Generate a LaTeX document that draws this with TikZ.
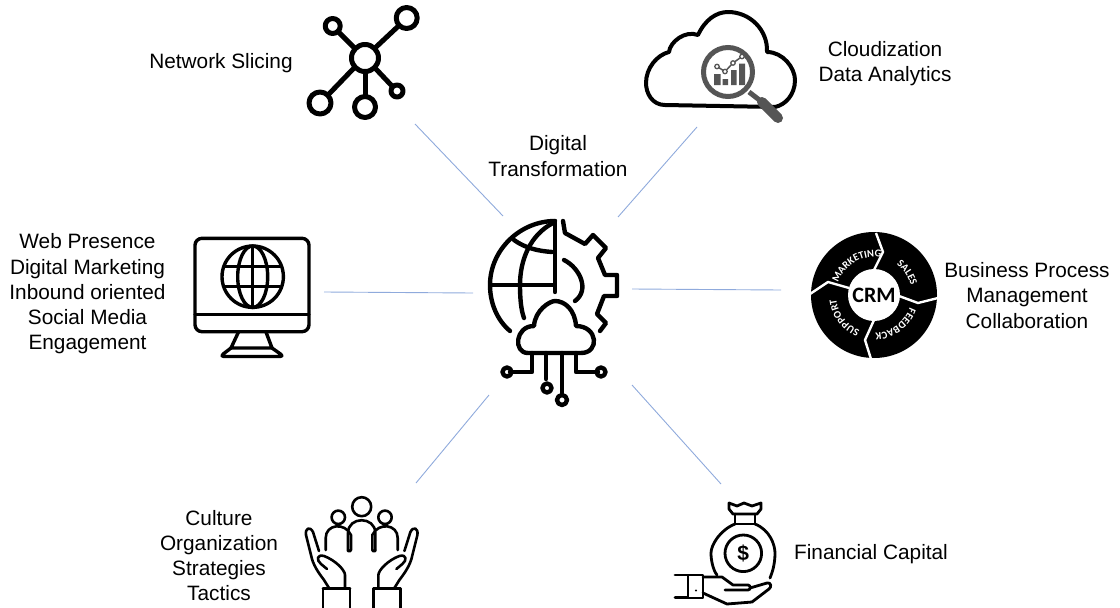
\documentclass[tikz,border=0pt]{standalone}
\usepackage{fontspec}
\setmainfont{Liberation Sans}
\newfontfamily\crmfont{Carlito}[BoldFont=Carlito Bold]
\usetikzlibrary{decorations.text,calc}
\tikzset{
  spoke/.style={draw=spokeblue,line width=0.9pt},
  lbl/.style={align=center,inner sep=0pt,font=\fontsize{20.8}{25.2}\selectfont,text=black},
  ic/.style={draw=black,line width=#1,line join=round,line cap=round,fill=none},
  ic/.default=4pt,
  crmtext/.style={decorate,decoration={text along path,text align=center,text={|\crmfont\bfseries\fontsize{10.5}{10.5}\selectfont\color{white}|#1}}}
}
\definecolor{spokeblue}{HTML}{8FAADC}
\definecolor{lens}{HTML}{555555}
\begin{document}
\begin{tikzpicture}[x=1pt,y=-1pt]
\useasboundingbox (0,0) rectangle (1120,608);
% labels
\node[lbl] (lslice) at (221,63.5) {Network Slicing};
\node[lbl] (lcloud) at (885,64) {Cloudization\\Data Analytics};
\node[lbl] (lhub) at (558,156) {Digital\\Transformation};
\node[lbl] (lweb) at (87.5,294) {Web Presence\\Digital Marketing\\Inbound oriented\\Social Media\\Engagement};
\node[lbl] (lbpm) at (1027,295.5) {Business Process\\Management\\Collaboration};
\node[lbl] (lcult) at (219,555.5) {Culture\\Organization\\Strategies\\Tactics};
\node[lbl] (lcap) at (871,554.5) {Financial Capital};
% spokes
\coordinate (a1) at (415,124); \coordinate (a2) at (503,216);
\coordinate (b1) at (697,127); \coordinate (b2) at (618,217);
\coordinate (c1) at (324,292); \coordinate (c2) at (473,293);
\coordinate (d1) at (781,290); \coordinate (d2) at (632,289);
\coordinate (e1) at (416,483); \coordinate (e2) at (489,395);
\coordinate (f1) at (721,484); \coordinate (f2) at (632,385);
\foreach \u/\v in {a1/a2,b1/b2,c1/c2,d1/d2,e1/e2,f1/f2} \draw[spoke] (\u) -- (\v);
% hub icon
\begin{scope}[every path/.style={ic=4.4pt}]
\draw (555,221) .. controls (520,221) and (490,250) .. (490,285) .. controls (490,303) and (497,320) .. (510,331);
\draw (555,221) -- (555,292);
\draw (491,285) -- (553,285);
\draw (514,240) .. controls (525,248) and (538,251) .. (552,252);
\draw (553,223) .. controls (530,235) and (520,260) .. (520,285) .. controls (520,298) and (521,310) .. (524,318);
\draw (563,221) -- (565,233) -- (585,244) -- (593,235) -- (606,248) -- (598,258) -- (605,275) -- (617,275) -- (617,296) -- (604,296) -- (597,314) -- (606,323) -- (600,331);
\draw (564,260) .. controls (580,268) and (590,290) .. (575,301);
\draw (528,353) .. controls (513,353) and (515,326) .. (534,326) .. controls (535,310) and (550,301) .. (555,301) .. controls (565,301) and (575,310) .. (576,326) .. controls (598,326) and (600,353) .. (581,353) -- cycle;
\draw (532,353) -- (532,372) -- (510,372);
\draw (546,353) -- (546,379);
\draw (562,353) -- (562,393);
\draw (576,353) -- (576,372) -- (598,372);
\draw (507,372) circle[radius=4.5];
\draw (547,388) circle[radius=4.5];
\draw (562,400) circle[radius=5];
\draw (601,372) circle[radius=4.5];
\end{scope}
% network slicing
\begin{scope}[every path/.style={ic=5pt}]
\draw (365,58) circle[radius=13.5];
\draw (332.7,26) circle[radius=7.5];
\draw (406.7,18) circle[radius=10.5];
\draw (320,103) circle[radius=11];
\draw (365,107) circle[radius=10.5];
\draw (397,91) circle[radius=6];
\draw (338,31.5) -- (355,48.5);
\draw (399,25.5) -- (375,48);
\draw (328,95) -- (354,68);
\draw (365,72) -- (365,96);
\draw (375,68) -- (392,86);
\end{scope}
% cloud icon
\draw[ic=4pt] (665,105) .. controls (652,105) and (646,93) .. (646,83) .. controls (646,68) and (657,55) .. (669,52) .. controls (670,42) and (685,30) .. (698,35) .. controls (705,20) and (716,12) .. (728,12) .. controls (750,12) and (768,30) .. (767,52) .. controls (783,52) and (795,68) .. (795,80) .. controls (795,95) and (785,105) .. (775,107) -- cycle;
\fill[white] (728,72) circle[radius=27];
\draw[draw=lens,line width=5pt] (728,72) circle[radius=24.5];
\draw[draw=lens,line width=5pt] (749,92) -- (762,102);
\draw[draw=lens,line width=10pt,line cap=round] (762,102) -- (778,118);
\fill[lens] (714,74) rectangle (720.5,85) (722.5,79) rectangle (728,85) (731,70) rectangle (736.5,85) (739,63.5) rectangle (745,85);
\draw[draw=lens,line width=1.5pt] (717,66.5) -- (725,71.5) -- (733,63) -- (742,56.5);
\foreach \p in {(717,66.5),(725,71.5),(733,63),(742,56.5)} \draw[draw=lens,line width=1.3pt,fill=white] \p circle[radius=2.2];
% monitor
\begin{scope}[every path/.style={ic=3.4pt}]
\draw[rounded corners=7pt] (195,238.3) rectangle (309,331.7);
\draw (195,314.3) -- (309,314.3);
\draw (252.7,276.7) circle[radius=30.7];
\draw (252.7,276.7) ellipse[x radius=15,y radius=30.7];
\draw (252.7,246) -- (252.7,307.4);
\draw (225.5,266.7) -- (280,266.7);
\draw (225.5,286.7) -- (280,286.7);
\draw (238.5,332) -- (231,348) -- (272,348) -- (266,332);
\draw[rounded corners=4pt] (231,348) -- (220,356.5) -- (284,356.5) -- (272,348);
\end{scope}
% CRM
\coordinate (crm) at (874,295);
\fill[black] (crm) circle[radius=63];
\fill[white] (crm) circle[radius=26];
\foreach \pa/\pb/\pc in {
  {876,233}/{883,252}/{874,270},
  {899,296}/{918,303}/{938,298},
  {874,320}/{865,340}/{871,359},
  {849,288}/{828,282}/{810,294}}{
  \draw[white,line width=2.4pt,line join=round] (\pa) -- (\pb) -- (\pc);
}
\node[inner sep=0pt,text=black,font=\crmfont\bfseries\fontsize{22}{22}\selectfont] (crmtitle) at (874,295) {CRM};
\path[crmtext=MARKETING] (crm) ++(-175:38) arc[start angle=-175,end angle=-65,radius=38];
\path[crmtext=SALES] (crm) ++(-65:38) arc[start angle=-65,end angle=-3,radius=38];
\path[crmtext=FEEDBACK] (crm) ++(8:38) arc[start angle=8,end angle=100,radius=38];
\path[crmtext=SUPPORT] (crm) ++(98:38) arc[start angle=98,end angle=188,radius=38];
% people and hands
\begin{scope}[every path/.style={ic=2.6pt}]
\draw (361.7,506.7) circle[radius=9.5];
\draw (338.3,517.3) circle[radius=6.7];
\draw (385,517.3) circle[radius=6.7];
\draw (348,551) -- (348,533) .. controls (348,516) and (375.3,516) .. (375.3,533) -- (375.3,551);
\draw (325.7,550) -- (325.7,538) .. controls (325.7,524) and (345,522) .. (351,535) -- (351,550) .. controls (351,552) and (348,552) .. (348,550);
\draw (397.7,550) -- (397.7,538) .. controls (397.7,524) and (378.3,522) .. (372.3,535) -- (372.3,550) .. controls (372.3,552) and (375.3,552) .. (375.3,550);
\foreach \s/\o in {1/0,-1/723.4}{
\begin{scope}[xshift=\o pt,xscale=\s]
\draw (319,551) -- (313,532) .. controls (310,526) and (305,528) .. (306,535) -- (311,555) .. controls (313,565) and (318,572) .. (324,580) -- (329,588);
\draw (327,569) -- (321,564) .. controls (316,560) and (317,554) .. (324,556) .. controls (335,560) and (345,570) .. (345,575) -- (345,588);
\draw (323,588.5) -- (350,588.5);
\draw (323,588.5) -- (323,608);
\draw (350,588.5) -- (350,608);
\end{scope}}
\end{scope}
% money bag
\begin{scope}[every path/.style={ic=2.8pt}]
\draw (729,503) -- (737,506) -- (744,503) -- (752,506) -- (761,503) -- (761,509) -- (757,514) -- (733,514) -- (729,509) -- cycle;
\draw (735,514) -- (735,524) -- (755,524) -- (755,514);
\draw (735,524) .. controls (720,530) and (711,545) .. (711,553) .. controls (711,560) and (713,570) .. (717,575);
\draw (755,524) .. controls (770,530) and (775,545) .. (775,553) .. controls (775,565) and (772,573) .. (770,578);
\draw (743.3,553.3) circle[radius=18.3];
\draw (688,575) rectangle (703,598);
\draw (675,575) -- (688,575);
\draw (675,597.5) -- (688,597.5);
\draw (703,577) -- (722,577) -- (733,585) -- (748,585) .. controls (751,585) and (751,590) .. (748,590) -- (725,590);
\draw (750,588) -- (767,583) .. controls (771,582) and (772,587) .. (769,589) -- (752,602) -- (727,604) -- (703,593);
\end{scope}
\fill (696,590.5) circle[radius=1.2];
\node[inner sep=0pt,font=\bfseries\fontsize{21}{21}\selectfont] (dollar) at (743.3,553.3) {\$};
\end{tikzpicture}
\end{document}
